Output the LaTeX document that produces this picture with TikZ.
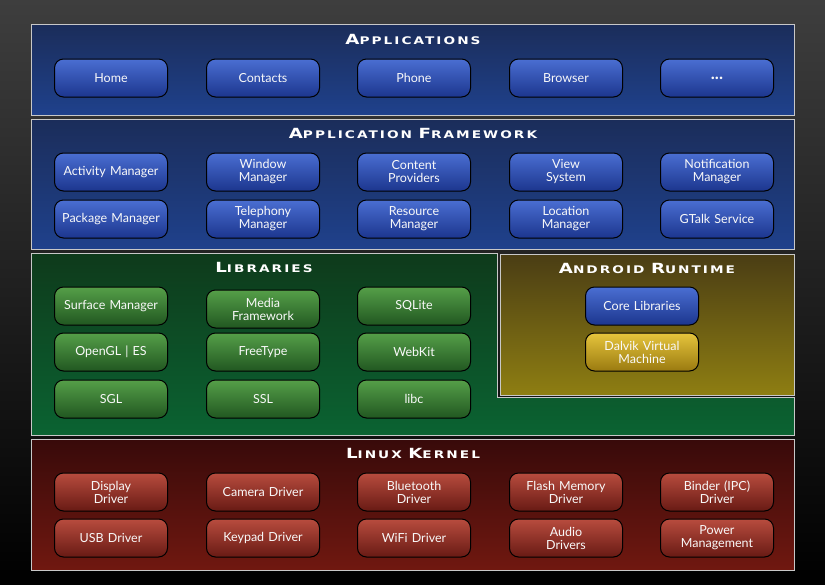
\documentclass[tikz,border=0pt]{standalone}
\usepackage{fontspec}
\usepackage{graphicx}
\setmainfont{Lato}
\newfontfamily\titlefont[LetterSpace=15]{DejaVu Sans}
\definecolor{bgtop}{HTML}{3E3E3E}
\definecolor{bgbot}{HTML}{000000}
\definecolor{appT}{HTML}{1B2D5A}
\definecolor{appB}{HTML}{1F418C}
\definecolor{bluT}{HTML}{4A6ED2}
\definecolor{bluB}{HTML}{1C368E}
\definecolor{libT}{HTML}{0E3A1B}
\definecolor{libB}{HTML}{0B6332}
\definecolor{grnT}{HTML}{559F48}
\definecolor{grnB}{HTML}{215721}
\definecolor{rtT}{HTML}{4A3D14}
\definecolor{rtB}{HTML}{8E7E12}
\definecolor{ylwT}{HTML}{E6C53C}
\definecolor{ylwB}{HTML}{9A7A10}
\definecolor{krnT}{HTML}{380A0A}
\definecolor{krnB}{HTML}{701810}
\definecolor{redT}{HTML}{B84C3E}
\definecolor{redB}{HTML}{681A14}
\definecolor{frame}{HTML}{C8C8C8}
\newcommand\scword[2]{{\fontsize{14}{14}\selectfont #1}{\fontsize{10.5}{10.5}\selectfont #2}}
\newcommand\widetitle[1]{\scalebox{1.3}[1]{#1}}
\tikzset{
  layer/.style={draw=frame, line width=0.9pt},
  btn/.style={rounded corners=9pt, draw=black, line width=1pt, minimum width=113pt,
    minimum height=38pt, text width=108pt, align=center, inner sep=0pt,
    font=\fontsize{12.5}{13}\selectfont, text=white!95!gray},
  bluebtn/.style={btn, top color=bluT, bottom color=bluB},
  greenbtn/.style={btn, top color=grnT, bottom color=grnB},
  yellowbtn/.style={btn, top color=ylwT, bottom color=ylwB},
  redbtn/.style={btn, top color=redT, bottom color=redB},
  ttl/.style={text=white, font=\titlefont\bfseries, inner sep=0pt}
}
\begin{document}
\begin{tikzpicture}[x=1pt,y=-1pt]
\useasboundingbox (0,0) rectangle (825,584);
\shade[top color=bgtop, bottom color=bgbot] (0,0) rectangle (825,584);
% layers
\shade[top color=appT, bottom color=appB] (31,24) rectangle (794,115);
\draw[layer] (31,24) rectangle (794,115);
\shade[top color=appT, bottom color=appB] (31,119) rectangle (794,249);
\draw[layer] (31,119) rectangle (794,249);
\shade[top color=libT, bottom color=libB] (31,253) -- (497,253) -- (497,397) -- (794,397) -- (794,435) -- (31,435) -- cycle;
\draw[layer] (31,253) -- (497,253) -- (497,397) -- (794,397) -- (794,435) -- (31,435) -- cycle;
\shade[top color=rtT, bottom color=rtB] (500,254) rectangle (794,395);
\draw[layer] (500,254) rectangle (794,395);
\shade[top color=krnT, bottom color=krnB] (31,439) rectangle (794,570);
\draw[layer] (31,439) rectangle (794,570);
% titles
\node[ttl] (tApps) at (413,39) {\widetitle{\scword{A}{PPLICATIONS}}};
\node[ttl] (tFw) at (413,133) {\widetitle{\scword{A}{PPLICATION} \scword{F}{RAMEWORK}}};
\node[ttl] (tLib) at (264,267) {\widetitle{\scword{L}{IBRARIES}}};
\node[ttl] (tRt) at (647,268) {\widetitle{\scword{A}{NDROID} \scword{R}{UNTIME}}};
\node[ttl] (tKer) at (413,453) {\widetitle{\scword{L}{INUX} \scword{K}{ERNEL}}};
% applications
\node[bluebtn] (home) at (111,78) {Home};
\node[bluebtn] (contacts) at (263,78) {Contacts};
\node[bluebtn] (phone) at (414,78) {Phone};
\node[bluebtn] (browser) at (566,78) {Browser};
\node[bluebtn] (more) at (717,78) {{\fontsize{17}{17}\selectfont\bfseries ...}};
% framework
\node[bluebtn] (activity) at (111,172) {Activity Manager};
\node[bluebtn] (window) at (263,172) {Window\\Manager};
\node[bluebtn] (content) at (414,172) {Content\\Providers};
\node[bluebtn] (view) at (566,172) {View\\System};
\node[bluebtn] (notif) at (717,172) {Notification\\Manager};
\node[bluebtn] (package) at (111,219) {Package Manager};
\node[bluebtn] (telephony) at (263,219) {Telephony\\Manager};
\node[bluebtn] (resource) at (414,219) {Resource\\Manager};
\node[bluebtn] (location) at (566,219) {Location\\Manager};
\node[bluebtn] (gtalk) at (717,219) {GTalk Service};
% libraries
\node[greenbtn] (surface) at (111,306) {Surface Manager};
\node[greenbtn] (media) at (263,309) {Media\\Framework};
\node[greenbtn] (sqlite) at (414,306) {SQLite};
\node[greenbtn] (opengl) at (111,352) {OpenGL | ES};
\node[greenbtn] (freetype) at (263,352) {FreeType};
\node[greenbtn] (webkit) at (414,352) {WebKit};
\node[greenbtn] (sgl) at (111,399) {SGL};
\node[greenbtn] (ssl) at (263,399) {SSL};
\node[greenbtn] (libc) at (414,399) {libc};
% runtime
\node[bluebtn] (core) at (642,306) {Core Libraries};
\node[yellowbtn] (dalvik) at (642,352) {Dalvik Virtual\\Machine};
% kernel
\node[redbtn] (display) at (111,492) {Display\\Driver};
\node[redbtn] (camera) at (263,492) {Camera Driver};
\node[redbtn] (bluetooth) at (414,492) {Bluetooth\\Driver};
\node[redbtn] (flash) at (566,492) {Flash Memory\\Driver};
\node[redbtn] (binder) at (717,492) {Binder (IPC)\\Driver};
\node[redbtn] (usb) at (111,538) {USB Driver};
\node[redbtn] (keypad) at (263,538) {Keypad Driver};
\node[redbtn] (wifi) at (414,538) {WiFi Driver};
\node[redbtn] (audio) at (566,538) {Audio\\Drivers};
\node[redbtn] (power) at (717,538) {Power\\Management};
\end{tikzpicture}
\end{document}
